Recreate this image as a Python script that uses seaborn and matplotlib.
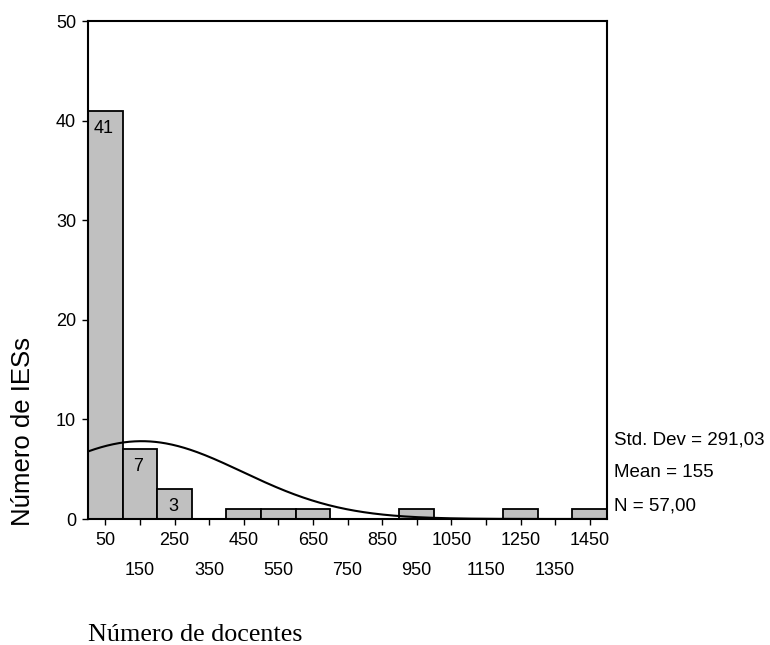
import numpy as np
import pandas as pd
import matplotlib
matplotlib.use("Agg")
import matplotlib.pyplot as plt
import matplotlib.transforms as mtransforms
import seaborn as sns

# Histogram of teaching staff per institution (bins of width 100)
bin_centers = [50, 150, 250, 350, 450, 550, 650, 750, 850, 950, 1050, 1150, 1250, 1350, 1450]
counts = [41, 7, 3, 0, 1, 1, 1, 0, 0, 1, 0, 0, 1, 0, 1]
major_ticks = [50, 250, 450, 650, 850, 1050, 1250, 1450]
minor_ticks = [150, 350, 550, 750, 950, 1150, 1350]
y_ticks = [0, 10, 20, 30, 40, 50]

std_dev = 291.03
mean = 155
n_total = 57

sns.set_theme(style="white")
plt.rcParams["font.family"] = ["Liberation Sans", "DejaVu Sans"]
plt.rcParams["text.color"] = "black"
plt.rcParams["axes.labelcolor"] = "black"
plt.rcParams["xtick.color"] = "black"
plt.rcParams["ytick.color"] = "black"

df = pd.DataFrame({"docentes": bin_centers, "n": counts})

fig = plt.figure(figsize=(7.7, 6.45), dpi=100)
ax = fig.add_axes([88 / 770, 1 - 519 / 645, (607 - 88) / 770, (519 - 21) / 645])

bin_width = 100
sns.histplot(data=df, x="docentes", weights="n", binwidth=bin_width,
             binrange=(0, 1500), ax=ax,
             color="#c0c0c0", edgecolor="black", linewidth=1.3, alpha=1.0,
             zorder=2)

# Normal curve scaled to the counts
xs = np.linspace(0, 1500, 600)
pdf = n_total * bin_width / (std_dev * np.sqrt(2 * np.pi)) * np.exp(-0.5 * ((xs - mean) / std_dev) ** 2)
sns.lineplot(x=xs, y=pdf, ax=ax, color="black", linewidth=1.5, zorder=3)

# Count labels inside the taller bars
for c, v in zip(bin_centers, counts):
    if v >= 2:
        ax.annotate(str(v), xy=(c, v), xytext=(-1, -6.5), textcoords="offset points",
                    ha="center", va="top", fontsize=13, color="black", zorder=4)

ax.set_xlim(0, 1500)
ax.set_ylim(0, 50)

ax.set_yticks(y_ticks)
ax.set_yticklabels([str(t) for t in y_ticks])
ax.set_xticks(major_ticks)
ax.set_xticklabels([str(t) for t in major_ticks])
ax.set_xticks(minor_ticks, minor=True)
ax.set_xticklabels([str(t) for t in minor_ticks], minor=True)

ax.tick_params(axis="x", which="major", direction="out", length=4.5, width=1,
               colors="black", labelsize=13, pad=5, bottom=True)
ax.tick_params(axis="x", which="minor", direction="out", length=4.5, width=1,
               colors="black", labelsize=13, pad=26.5, bottom=True)
ax.tick_params(axis="y", direction="out", length=4.5, width=1,
               colors="black", labelsize=13, pad=4, left=True)

for side in ["left", "right", "top", "bottom"]:
    ax.spines[side].set_visible(True)
    ax.spines[side].set_color("black")
    ax.spines[side].set_linewidth(1.5)

ax.set_ylabel("Número de IESs", fontsize=18.5, color="black")
ax.yaxis.label.set_verticalalignment("center")
ax.yaxis.set_label_coords((23 - 88) / 519, (519 - 431) / 498)

ax.set_xlabel("Número de docentes", fontsize=18.8, color="black",
              family=["Liberation Serif", "DejaVu Serif"])
ax.xaxis.label.set_horizontalalignment("left")
ax.xaxis.label.set_verticalalignment("center")
ax.xaxis.set_label_coords(0.0, -(635 - 519) / 498)

# Summary statistics beside the plot
trans = mtransforms.blended_transform_factory(ax.transAxes, ax.transData)
stats = ["Std. Dev = " + f"{std_dev:.2f}".replace(".", ","),
         f"Mean = {mean}",
         "N = " + f"{n_total:.2f}".replace(".", ",")]
for label, yv in zip(stats, [7.9, 4.65, 1.35]):
    ax.text(1.0135, yv, label, transform=trans, ha="left", va="center",
            fontsize=13.5, color="black", clip_on=False)

fig.savefig("out.png", dpi=100)
